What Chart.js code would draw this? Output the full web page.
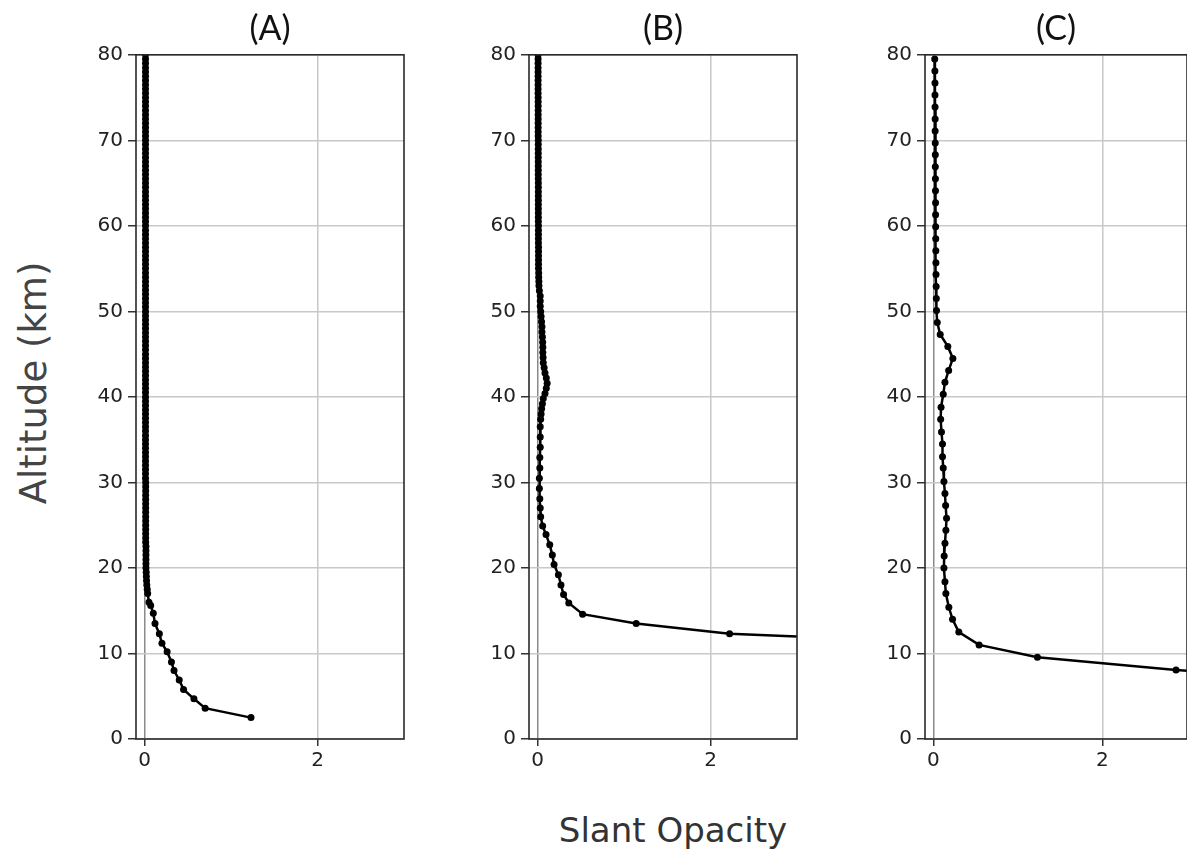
<!DOCTYPE html>
<html>
<head>
<meta charset="utf-8">
<script src="https://cdn.jsdelivr.net/npm/chart.js@4.4.1/dist/chart.umd.min.js"></script>
<style>
  html, body { margin: 0; padding: 0; background: #fff; }
  body { width: 1187px; height: 852px; overflow: hidden; position: relative; }
  .panel { position: absolute; top: 0; }
  .lbl { position: absolute; font-family: "DejaVu Sans", sans-serif; white-space: nowrap; }
</style>
</head>
<body>
<div class="panel" style="left:66px"><canvas id="cA" width="342" height="780"></canvas></div>
<div class="panel" style="left:459px"><canvas id="cB" width="342" height="780"></canvas></div>
<div class="panel" style="left:855px"><canvas id="cC" width="336" height="780"></canvas></div>
<div class="lbl" id="ylab" style="left:33px; top:383px; font-size:37px; color:#444; transform: translate(-50%,-50%) rotate(-90deg);">Altitude (km)</div>
<div class="lbl" id="xlab" style="left:673px; top:830px; font-size:34px; color:#333; transform: translate(-50%,-50%);">Slant Opacity</div>
<script>
// ---- Data ----
const panelTitles = ["(A)", "(B)", "(C)"];
const yTicks = [0, 10, 20, 30, 40, 50, 60, 70, 80];
const xTicks = [0, 2];

// Panel A: altitude (km) and slant opacity
const altA = [80, 79.5, 79, 78.5, 78, 77.5, 77, 76.5, 76, 75.5, 75, 74.5, 74, 73.5, 73, 72.5, 72, 71.5, 71, 70.5,
  70, 69.5, 69, 68.5, 68, 67.5, 67, 66.5, 66, 65.5, 65, 64.5, 64, 63.5, 63, 62.5, 62, 61.5, 61, 60.5,
  60, 59.5, 59, 58.5, 58, 57.5, 57, 56.5, 56, 55.5, 55, 54.5, 54, 53.5, 53, 52.5, 52, 51.5, 51, 50.5,
  50, 49.5, 49, 48.5, 48, 47.5, 47, 46.5, 46, 45.5, 45, 44.5, 44, 43.5, 43, 42.5, 42, 41.5, 41, 40.5,
  40, 39.5, 39, 38.5, 38, 37.5, 37, 36.5, 36, 35.5, 35, 34.5, 34, 33.5, 33, 32.5, 32, 31.5, 31, 30.5,
  30, 29.5, 29, 28.5, 28, 27.5, 27, 26.5, 26, 25.5, 25, 24.5, 24, 23.5, 23, 22.5, 22, 21.5, 21, 20.5,
  20, 19.5, 19, 18.5, 18, 17.5, 17, 16, 15.6, 14.7, 13.5, 12.3, 11.2, 10.2, 9.0, 8.0, 6.9, 5.8, 4.7, 3.6, 2.5];
const opA = [0.01, 0.01, 0.01, 0.01, 0.01, 0.01, 0.01, 0.01, 0.01, 0.01, 0.01, 0.01, 0.01, 0.01, 0.01, 0.01, 0.01, 0.01, 0.01, 0.01,
  0.01, 0.01, 0.01, 0.01, 0.01, 0.01, 0.01, 0.01, 0.01, 0.01, 0.01, 0.01, 0.01, 0.01, 0.01, 0.01, 0.01, 0.01, 0.01, 0.01,
  0.01, 0.01, 0.01, 0.01, 0.01, 0.01, 0.01, 0.01, 0.01, 0.01, 0.01, 0.01, 0.01, 0.01, 0.01, 0.01, 0.01, 0.01, 0.01, 0.01,
  0.01, 0.01, 0.01, 0.01, 0.01, 0.01, 0.01, 0.01, 0.01, 0.01, 0.01, 0.01, 0.01, 0.01, 0.01, 0.01, 0.01, 0.01, 0.01, 0.01,
  0.01, 0.01, 0.01, 0.01, 0.01, 0.01, 0.01, 0.01, 0.01, 0.01, 0.01, 0.01, 0.01, 0.01, 0.01, 0.01, 0.01, 0.01, 0.01, 0.01,
  0.012, 0.012, 0.012, 0.012, 0.012, 0.012, 0.012, 0.012, 0.012, 0.012, 0.012, 0.012, 0.012, 0.012, 0.012, 0.015, 0.015, 0.015, 0.015, 0.015,
  0.015, 0.018, 0.02, 0.022, 0.025, 0.03, 0.035, 0.05, 0.07, 0.10, 0.12, 0.17, 0.20, 0.26, 0.31, 0.34, 0.40, 0.45, 0.57, 0.70, 1.23];

// Panel B
const altB = [80, 79.5, 79, 78.5, 78, 77.5, 77, 76.5, 76, 75.5, 75, 74.5, 74, 73.5, 73, 72.5, 72, 71.5, 71, 70.5,
  70, 69.5, 69, 68.5, 68, 67.5, 67, 66.5, 66, 65.5, 65, 64.5, 64, 63.5, 63, 62.5, 62, 61.5, 61, 60.5,
  60, 59.5, 59, 58.5, 58, 57.5, 57, 56.5, 56, 55.5, 55, 54.5, 54, 53.5, 53,
  52.4, 51.8, 51.2, 50.6, 50.0, 49.4, 48.8, 48.2, 47.6, 47.0, 46.4, 45.8, 45.2, 44.6, 44.0, 43.4, 42.8, 42.2,
  41.6, 41.0, 40.4, 39.8, 39.2, 38.6, 38.0, 37.4, 36.5, 35.3, 34.1, 32.9, 31.7, 30.5, 29.3, 28.1, 27.0, 26.0,
  24.9, 23.9, 22.7, 21.5, 20.4, 19.2, 18.0, 16.9, 15.9, 14.6, 13.5, 12.3, 11.4];
const opB = [0.005, 0.005, 0.005, 0.005, 0.005, 0.005, 0.005, 0.005, 0.005, 0.005, 0.006, 0.006, 0.006, 0.006, 0.006, 0.006, 0.006, 0.006, 0.006, 0.006,
  0.007, 0.007, 0.007, 0.007, 0.007, 0.007, 0.007, 0.007, 0.007, 0.007, 0.008, 0.008, 0.008, 0.008, 0.008, 0.008, 0.008, 0.008, 0.008, 0.008,
  0.009, 0.009, 0.009, 0.009, 0.009, 0.01, 0.01, 0.01, 0.01, 0.01, 0.01, 0.012, 0.012, 0.014, 0.015,
  0.02, 0.03, 0.03, 0.03, 0.035, 0.04, 0.045, 0.05, 0.05, 0.055, 0.058, 0.06, 0.06, 0.063, 0.065, 0.075, 0.085, 0.10,
  0.11, 0.10, 0.085, 0.065, 0.055, 0.046, 0.04, 0.035, 0.03, 0.03, 0.03, 0.025, 0.025, 0.02, 0.02, 0.025, 0.03, 0.035,
  0.058, 0.097, 0.14, 0.17, 0.19, 0.24, 0.27, 0.30, 0.36, 0.52, 1.14, 2.22, 4.4];

// Panel C
const altC = [79.5, 78.1, 76.7, 75.3, 73.9, 72.5, 71.1, 69.7, 68.3, 66.9, 65.5, 64.1, 62.7, 61.3, 59.9, 58.5, 57.1, 55.7, 54.3, 52.9,
  51.5, 50.1, 48.7, 47.3, 45.9, 44.5, 43.1, 41.7, 40.3, 38.8, 37.4, 35.9, 34.5, 33.0, 31.7, 30.1, 28.7, 27.3, 25.8, 24.4,
  22.9, 21.4, 20.0, 18.4, 17.0, 15.4, 14.0, 12.5, 11.0, 9.55, 8.07, 6.9];
const opC = [0.015, 0.017, 0.018, 0.018, 0.019, 0.02, 0.02, 0.021, 0.022, 0.022, 0.023, 0.024, 0.025, 0.025, 0.026, 0.027, 0.028, 0.029, 0.03, 0.032,
  0.034, 0.036, 0.045, 0.08, 0.17, 0.23, 0.18, 0.136, 0.116, 0.09, 0.085, 0.095, 0.107, 0.107, 0.116, 0.124, 0.136, 0.144, 0.155, 0.147,
  0.136, 0.127, 0.124, 0.136, 0.147, 0.182, 0.226, 0.30, 0.54, 1.23, 2.87, 4.8];

// ---- Rendering ----
const framePlugin = {
  id: 'frame',
  afterDraw(chart) {
    const a = chart.chartArea, c = chart.ctx;
    c.save();
    c.strokeStyle = '#2a2a2a';
    c.lineWidth = 1.6;
    c.strokeRect(a.left, a.top, a.right - a.left, a.bottom - a.top);
    c.restore();
  }
};

function makePanel(id, title, alts, ops) {
  const pts = alts.map((a, i) => ({ x: ops[i], y: a }));
  const tickFont = { family: 'DejaVu Sans', size: 20 };
  new Chart(document.getElementById(id), {
    type: 'scatter',
    data: {
      datasets: [{
        data: pts,
        showLine: true,
        borderColor: '#000',
        backgroundColor: '#000',
        borderWidth: 2.5,
        pointRadius: 3.5,
        pointBorderWidth: 0,
        pointBackgroundColor: '#000',
        tension: 0
      }]
    },
    options: {
      responsive: false,
      animation: false,
      devicePixelRatio: 1,
      layout: { padding: { left: 0, right: 4, top: 0, bottom: 0 } },
      plugins: {
        legend: { display: false },
        tooltip: { enabled: false },
        title: {
          display: true,
          text: title,
          fullSize: false,
          color: '#111',
          font: { family: 'Lato', size: 34, weight: 'normal', lineHeight: 1.2 },
          padding: { top: 9, bottom: 5 }
        }
      },
      scales: {
        x: {
          type: 'linear',
          min: -0.1,
          max: 3,
          afterBuildTicks: s => { s.ticks = xTicks.map(v => ({ value: v })); },
          afterFit: s => { s.height = 41; },
          ticks: { color: '#222', font: tickFont, padding: 3, autoSkip: false },
          grid: {
            color: c => (c.tick && c.tick.value === 0) ? '#8a8a8a' : '#c8c8c8',
            lineWidth: 1.5,
            tickColor: '#333',
            tickLength: 7,
            tickWidth: 1.5
          },
          border: { display: false }
        },
        y: {
          type: 'linear',
          min: 0,
          max: 80,
          afterBuildTicks: s => { s.ticks = yTicks.map(v => ({ value: v })); },
          afterFit: s => { s.width = 70; },
          ticks: { color: '#222', font: tickFont, padding: 5, autoSkip: false },
          grid: {
            color: '#c8c8c8',
            lineWidth: 1.5,
            tickColor: '#333',
            tickLength: 8,
            tickWidth: 1.5
          },
          border: { display: false }
        }
      }
    },
    plugins: [framePlugin]
  });
}

makePanel('cA', panelTitles[0], altA, opA);
makePanel('cB', panelTitles[1], altB, opB);
makePanel('cC', panelTitles[2], altC, opC);
</script>
</body>
</html>
